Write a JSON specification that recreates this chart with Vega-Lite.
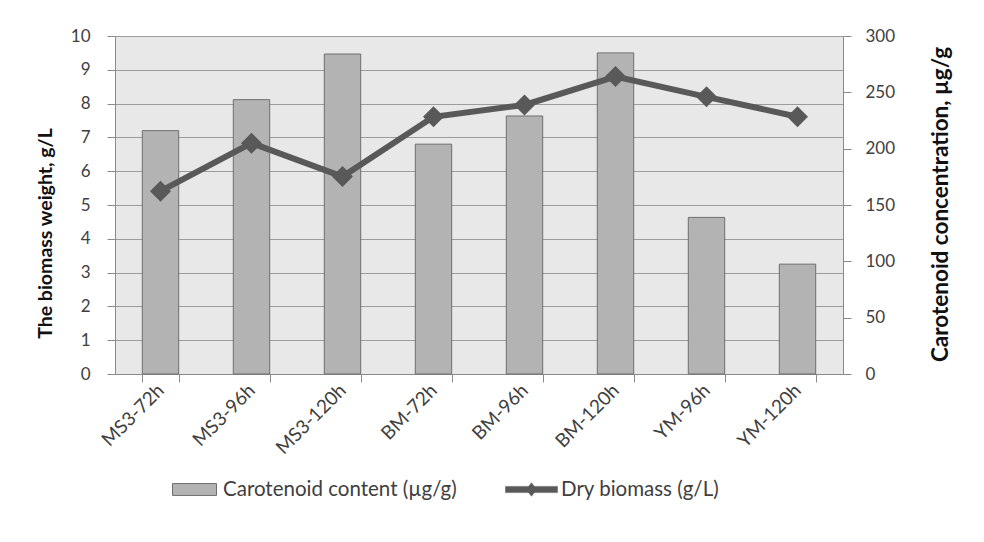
{
  "$schema": "https://vega.github.io/schema/vega-lite/v6.json",
  "autosize": {"type": "none"},
  "width": 728,
  "height": 338,
  "padding": {"left": 115, "top": 36, "right": 141, "bottom": 168},
  "background": "#ffffff",
  "config": {
    "font": "Lato",
    "view": {"fill": "#e8e8e8", "stroke": null},
    "axis": {
      "labelFont": "Lato", "labelFontSize": 17, "labelColor": "#404040",
      "titleFont": "Lato", "titleFontSize": 19.5, "titleColor": "#111111", "titleFontWeight": "bold",
      "domainColor": "#8a8a8a", "tickColor": "#8a8a8a", "domainWidth": 1, "tickWidth": 1
    },
    "legend": {"labelFont": "Lato", "labelFontSize": 20.5, "labelColor": "#404040", "padding": 0, "labelLimit": 0}
  },
  "data": {
    "values": [
      {"sample": "MS3-72h", "carotenoid": 216, "biomass": 5.41},
      {"sample": "MS3-96h", "carotenoid": 243.5, "biomass": 6.83},
      {"sample": "MS3-120h", "carotenoid": 284, "biomass": 5.84},
      {"sample": "BM-72h", "carotenoid": 204, "biomass": 7.61},
      {"sample": "BM-96h", "carotenoid": 229, "biomass": 7.96},
      {"sample": "BM-120h", "carotenoid": 285, "biomass": 8.8},
      {"sample": "YM-96h", "carotenoid": 139, "biomass": 8.2},
      {"sample": "YM-120h", "carotenoid": 97.5, "biomass": 7.61}
    ]
  },
  "encoding": {
    "x": {
      "field": "sample", "type": "nominal", "sort": null,
      "scale": {"paddingInner": 0.6, "paddingOuter": 0.3},
      "axis": {
        "title": null, "tickBand": "extent", "tickSize": 8, "labelAngle": -45,
        "labelAlign": "right", "labelBaseline": "middle", "labelPadding": 5,
        "labelFontSize": 19
      }
    }
  },
  "layer": [
    {
      "mark": {"type": "bar", "stroke": "#6e6e6e", "strokeWidth": 1},
      "encoding": {
        "y": {
          "field": "carotenoid", "type": "quantitative",
          "scale": {"domain": [0, 300], "nice": false},
          "axis": {
            "orient": "right", "values": [0, 50, 100, 150, 200, 250, 300], "grid": false,
            "tickSize": 8, "labelPadding": 14,
            "title": "Carotenoid concentration, µg/g", "titleAngle": -90, "titleFontSize": 22.5,
            "titleX": 97, "titleY": 168, "titleAlign": "center", "titleBaseline": "middle"
          }
        },
        "fill": {
          "datum": "Carotenoid content (µg/g)", "type": "nominal",
          "scale": {"range": ["#b3b3b3"]},
          "legend": {
            "title": null, "orient": "none", "legendX": 57, "legendY": 431,
            "symbolType": "M-1,-0.27H1V0.27H-1Z", "symbolSize": 1936,
            "symbolStrokeColor": "#6e6e6e", "symbolStrokeWidth": 1, "labelOffset": 6
          }
        }
      }
    },
    {
      "mark": {
        "type": "line", "strokeWidth": 6,
        "point": {"shape": "diamond", "size": 330, "filled": true, "color": "#595959", "opacity": 1}
      },
      "encoding": {
        "y": {
          "field": "biomass", "type": "quantitative",
          "scale": {"domain": [0, 10], "nice": false},
          "axis": {
            "orient": "left", "values": [0, 1, 2, 3, 4, 5, 6, 7, 8, 9, 10], "grid": true,
            "gridColor": "#9c9c9c", "gridWidth": 1.2,
            "tickSize": 8, "labelPadding": 17,
            "title": "The biomass weight, g/L", "titleAngle": -90,
            "titleX": -70, "titleY": 197, "titleAlign": "center", "titleBaseline": "middle"
          }
        },
        "stroke": {
          "datum": "Dry biomass (g/L)", "type": "nominal",
          "scale": {"range": ["#595959"]},
          "legend": {
            "title": null, "orient": "none", "legendX": 390, "legendY": 427,
            "symbolType": "M-1,-0.12H1V0.12H-1Z M0,-0.26L0.2,0L0,0.26L-0.2,0Z", "symbolSize": 2704,
            "symbolFillColor": "#595959", "symbolStrokeWidth": 0.5, "labelOffset": 3
          }
        }
      }
    }
  ],
  "resolve": {"scale": {"y": "independent", "fill": "independent", "stroke": "independent"}}
}
